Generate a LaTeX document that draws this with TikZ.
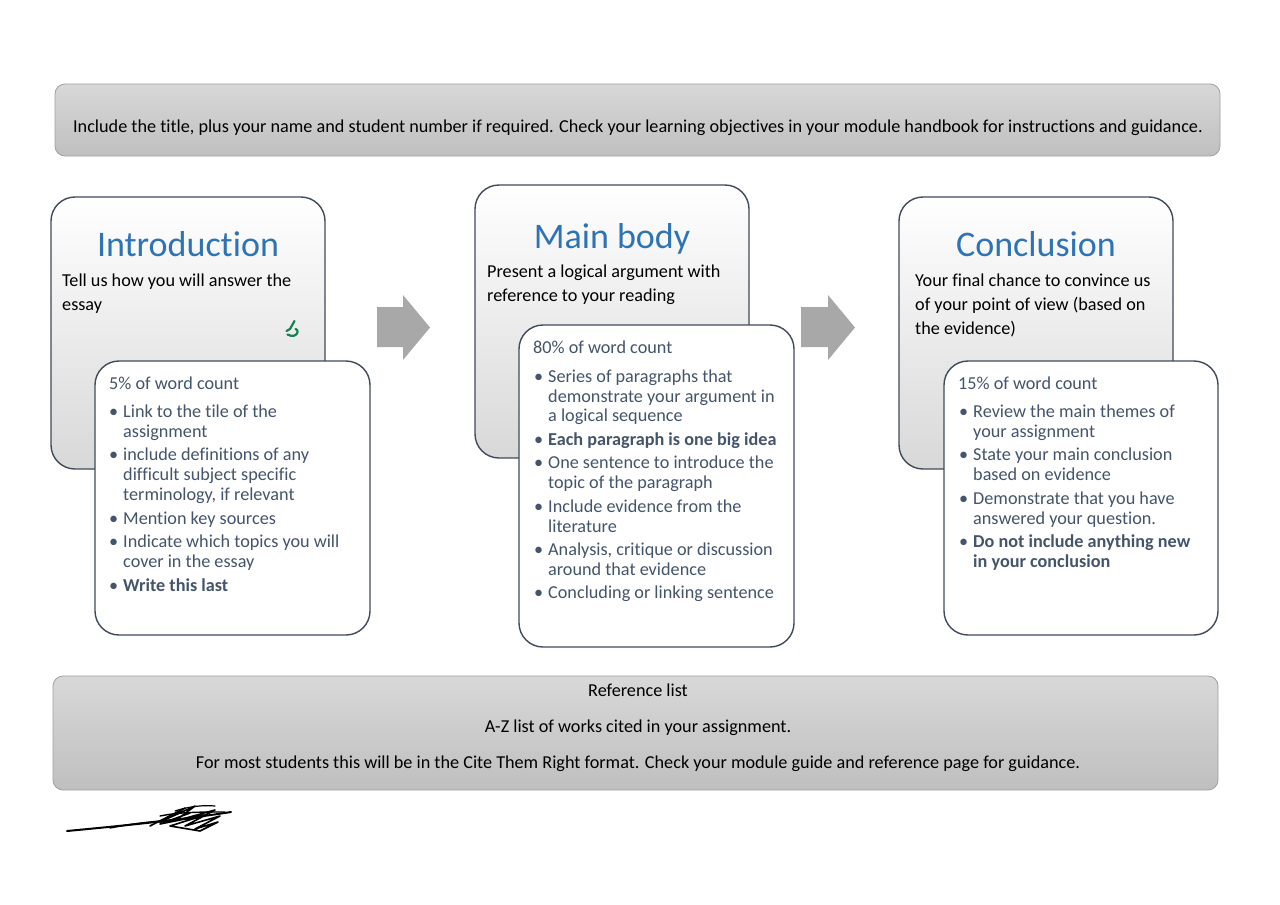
\documentclass[tikz,border=0pt]{standalone}
\usepackage{fontspec}
\setmainfont{Carlito}[Ligatures=NoCommon]
\definecolor{slate}{HTML}{44546A}
\definecolor{edge}{HTML}{3F4B5B}
\definecolor{ttl}{HTML}{2E74B5}
\definecolor{arrowgray}{HTML}{A8A8A8}
\definecolor{bantop}{HTML}{D8D8D8}
\definecolor{banbot}{HTML}{BFBFBF}
\definecolor{banedge}{HTML}{A0A0A0}
\definecolor{cardbot}{HTML}{D8D8D8}
\definecolor{glyph}{HTML}{17804F}
\newcounter{tl}
\newcommand\fs{\fontsize{18.2}{22}\selectfont}
\newcommand\fb{\fontsize{18.2}{22}\selectfont}
\newcommand\tln[3]{\stepcounter{tl}\node[bt] (t\arabic{tl}) at (#1,#2) {#3};}
\newcommand\tlb[3]{\stepcounter{tl}\node[bt,font=\fs\bfseries] (t\arabic{tl}) at (#1,#2) {#3};}
\newcommand\bul[2]{\stepcounter{tl}\node[bt] (b\arabic{tl}) at (#1,#2) {•};}
\newcommand\blk[3]{\stepcounter{tl}\node[blt] (k\arabic{tl}) at (#1,#2) {#3};}
\begin{document}
\begin{tikzpicture}[x=1pt,y=-1pt,
  banner/.style={draw=banedge, line width=0.8pt, rounded corners=10pt, top color=bantop, bottom color=banbot, inner sep=0},
  back/.style={draw=edge, line width=1.4pt, rounded corners=24pt, top color=white, bottom color=cardbot, inner sep=0},
  front/.style={draw=edge, line width=1.4pt, rounded corners=24pt, fill=white, inner sep=0},
  bt/.style={anchor=mid west, inner sep=0, text=slate, font=\fs, yshift=-3.5pt},
  blt/.style={anchor=mid west, inner sep=0, text=black, font=\fb, yshift=-3.5pt},
  ctext/.style={anchor=mid, inner sep=0, text=black, font=\fb, yshift=-3.5pt},
  title/.style={anchor=base, inner sep=0, text=ttl, font=\fontsize{36}{40}\selectfont},
  bigarrow/.style={fill=arrowgray, draw=none}
]
\useasboundingbox (0,0) rectangle (1280,905);
\fill[white] (0,0) rectangle (1280,905);

% top banner
\node[banner, minimum width=1165pt, minimum height=72pt] (top) at (637.5,120) {};
\node[ctext] (toptext) at (638,127) {Include the title, plus your name and student number if required. Check your learning objectives in your module handbook for instructions and guidance.};

% bottom banner
\node[banner, minimum width=1165pt, minimum height=114pt] (bot) at (635.5,733) {};
\node[ctext] (ref1) at (638,691) {Reference list};
\node[ctext] (ref2) at (638,727) {A-Z list of works cited in your assignment.};
\node[ctext] (ref3) at (638,763) {For most students this will be in the Cite Them Right format. Check your module guide and reference page for guidance.};

% arrows
\path[bigarrow] (377,307) -- (403,307) -- (403,295) -- (430,327.5) -- (403,360) -- (403,347) -- (377,347) -- cycle;
\path[bigarrow] (801,307) -- (828,307) -- (828,295) -- (855,327.5) -- (828,360) -- (828,347) -- (801,347) -- cycle;

% ---------- Introduction ----------
\node[back, minimum width=274pt, minimum height=272pt] (introback) at (188,333) {};
\node[title] (introtitle) at (188,256) {Introduction};
\blk{62}{281}{Tell us how you will answer the}
\blk{62}{305}{essay}
\draw[glyph, line width=2.2pt, line cap=round, line join=round]
  (294.5,321) .. controls (293,325) .. (290,329) -- (286.5,331);
\draw[glyph, line width=2.2pt, line cap=round, line join=round]
  (287.5,334.5) .. controls (292,337) and (297,336) .. (297.5,332) .. controls (297.5,330) .. (295.5,329);
\node[front, minimum width=275pt, minimum height=274pt] (introfront) at (232.5,498) {};
\tln{109}{384}{5\% of word count}
\bul{109}{412}\tln{123}{412}{Link to the tile of the}
\tln{123}{432}{assignment}
\bul{109}{455}\tln{123}{455}{include definitions of any}
\tln{123}{475}{difficult subject specific}
\tln{123}{495}{terminology, if relevant}
\bul{109}{519}\tln{123}{519}{Mention key sources}
\bul{109}{542}\tln{123}{542}{Indicate which topics you will}
\tln{123}{562}{cover in the essay}
\bul{109}{586}\tlb{123}{586}{Write this last}

% ---------- Main body ----------
\node[back, minimum width=274pt, minimum height=273pt] (mainback) at (612,321.5) {};
\node[title] (maintitle) at (612,248) {Main body};
\blk{487}{272}{Present a logical argument with}
\blk{487}{296}{reference to your reading}
\node[front, minimum width=275pt, minimum height=322pt] (mainfront) at (656.5,486) {};
\tln{533}{348}{80\% of word count}
\bul{534}{377}\tln{548}{377}{Series of paragraphs that}
\tln{548}{397}{demonstrate your argument in}
\tln{548}{416}{a logical sequence}
\bul{534}{440}\tlb{548}{440}{Each paragraph is one big idea}
\bul{534}{463}\tln{548}{463}{One sentence to introduce the}
\tln{548}{483}{topic of the paragraph}
\bul{534}{507}\tln{548}{507}{Include evidence from the}
\tln{548}{527}{literature}
\bul{534}{550}\tln{548}{550}{Analysis, critique or discussion}
\tln{548}{570}{around that evidence}
\bul{534}{593}\tln{548}{593}{Concluding or linking sentence}

% ---------- Conclusion ----------
\node[back, minimum width=274pt, minimum height=272pt] (concback) at (1036,333) {};
\node[title] (conctitle) at (1036,256) {Conclusion};
\blk{915}{281}{Your final chance to convince us}
\blk{915}{305}{of your point of view (based on}
\blk{915}{329}{the evidence)}
\node[front, minimum width=274pt, minimum height=274pt] (concfront) at (1081,498) {};
\tln{958}{384}{15\% of word count}
\bul{959}{412}\tln{973}{412}{Review the main themes of}
\tln{973}{432}{your assignment}
\bul{959}{455}\tln{973}{455}{State your main conclusion}
\tln{973}{475}{based on evidence}
\bul{959}{499}\tln{973}{499}{Demonstrate that you have}
\tln{973}{519}{answered your question.}
\bul{959}{542}\tlb{973}{542}{Do not include anything new}
\tlb{973}{562}{in your conclusion}

% ---------- scribble ----------
\draw[black, line width=2pt, line cap=round]
  (67,831) .. controls (120,826) and (180,820) .. (231,812);
\draw[black, line width=1.6pt, line cap=round, line join=round]
  (150,826) -- (185,808) -- (160,822) -- (195,806) -- (175,821) -- (215,810)
  -- (185,826) -- (220,816) -- (195,829) -- (218,822) -- (200,831)
  -- (170,826) -- (205,815) -- (160,824) -- (190,813);
\draw[black, line width=1.4pt, line cap=round]
  (160,816) .. controls (180,812) and (200,812) .. (225,812);
\draw[black, line width=1.4pt, line cap=round]
  (110,828) .. controls (140,822) and (170,820) .. (200,818);
\draw[black, line width=1.2pt, line cap=round]
  (175,811) .. controls (190,806) and (205,805) .. (215,806);
\end{tikzpicture}
\end{document}
